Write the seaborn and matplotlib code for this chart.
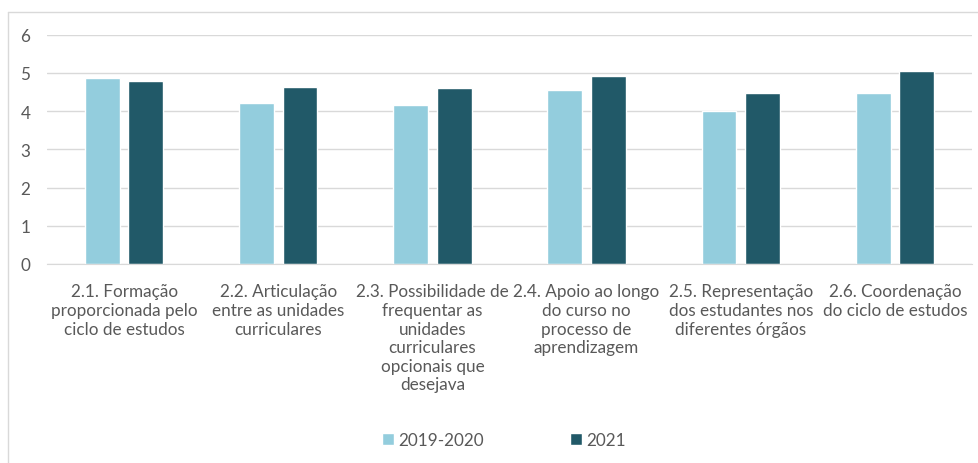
import pandas as pd
import seaborn as sns
import matplotlib.pyplot as plt
from matplotlib.lines import Line2D

# dados
categorias = [
    "2.1. Formação\nproporcionada pelo\nciclo de estudos",
    "2.2. Articulação\nentre as unidades\ncurriculares",
    "2.3. Possibilidade de\nfrequentar as\nunidades\ncurriculares\nopcionais que\ndesejava",
    "2.4. Apoio ao longo\ndo curso no\nprocesso de\naprendizagem",
    "2.5. Representação\ndos estudantes nos\ndiferentes órgãos",
    "2.6. Coordenação\ndo ciclo de estudos",
]
anos = ["2019-2020", "2021"]
valores_2019_2020 = [4.86, 4.21, 4.16, 4.55, 4.01, 4.47]
valores_2021 = [4.79, 4.63, 4.60, 4.91, 4.47, 5.04]
cores = ["#93CDDD", "#215968"]
texto_cor = "#595959"

df = pd.DataFrame({
    "categoria": categorias * 2,
    "ano": [anos[0]] * 6 + [anos[1]] * 6,
    "valor": valores_2019_2020 + valores_2021,
})

sns.set_style("white")
plt.rcParams['font.family'] = ['Lato', 'DejaVu Sans']

fig = plt.figure(figsize=(9.79, 4.64), dpi=100)
ax = fig.add_axes([47 / 979, 1 - 265 / 464, 925 / 979, (265 - 35.7) / 464])

sns.barplot(data=df, x="categoria", y="valor", hue="ano", palette=cores,
            width=0.564, gap=0.2, ax=ax, saturation=1, legend=True)

ax.set_ylim(0, 6)
ax.set_yticks(range(0, 7))
ax.grid(axis="y", color="#D9D9D9", linewidth=1)
ax.set_axisbelow(True)
for s in ["top", "right", "left"]:
    ax.spines[s].set_visible(False)
ax.spines["bottom"].set_color("#D9D9D9")
ax.set_xlabel("")
ax.set_ylabel("")
ax.tick_params(axis="both", length=0, colors=texto_cor, labelsize=12.3)
ax.tick_params(axis="y", pad=12)
ax.tick_params(axis="x", pad=14)
for lbl in ax.get_xticklabels():
    lbl.set_linespacing(1.2)

# legenda em baixo
leg = ax.legend(loc="center", bbox_to_anchor=(504 / 979, 1 - 441 / 464),
                bbox_transform=fig.transFigure, ncol=2, frameon=False,
                fontsize=12.3, handlelength=0.7, handleheight=0.7,
                handletextpad=0.25, columnspacing=5.0)
for t in leg.get_texts():
    t.set_color(texto_cor)

# moldura do gráfico
fig.add_artist(Line2D([8 / 979, 8 / 979], [0, 1 - 13 / 464], transform=fig.transFigure,
                      color="#D9D9D9", linewidth=1))
fig.add_artist(Line2D([8 / 979, 1], [1 - 13 / 464, 1 - 13 / 464], transform=fig.transFigure,
                      color="#D9D9D9", linewidth=1))

fig.savefig("out.png", dpi=100)
